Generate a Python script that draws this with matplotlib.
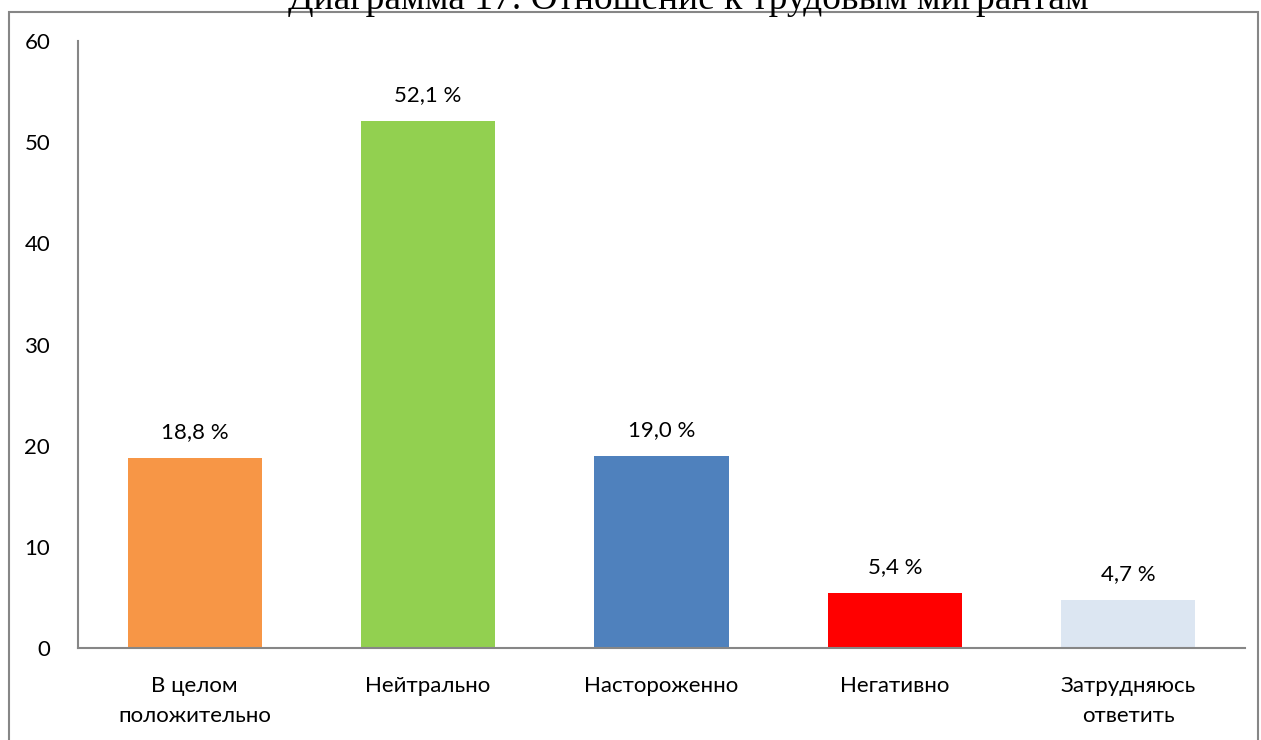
import matplotlib.pyplot as plt
from matplotlib.patches import Rectangle

categories = ['В целом\nположительно', 'Нейтрально', 'Настороженно', 'Негативно', 'Затрудняюсь\nответить']
values = [18.8, 52.1, 19.0, 5.4, 4.7]
labels = ['18,8 %', '52,1 %', '19,0 %', '5,4 %', '4,7 %']
colors = ['#F79646', '#92D050', '#4F81BD', '#FF0000', '#DCE6F2']

plt.rcParams['font.family'] = ['Lato', 'DejaVu Sans']

fig = plt.figure(figsize=(12.61, 7.40), dpi=100)
ax = fig.add_axes([78 / 1261, 1 - 648 / 740, (1245 - 78) / 1261, (648 - 41) / 740])

x = range(len(categories))
ax.bar(x, values, width=0.575, color=colors)
for i, (v, t) in enumerate(zip(values, labels)):
    ax.text(i, v + 1.6, t, ha='center', va='bottom', fontsize=16)

ax.set_xlim(-0.5, len(categories) - 0.5)
ax.set_ylim(0, 60)
ax.set_yticks(range(0, 61, 10))
ax.set_xticks(list(x))
ax.set_xticklabels(categories, fontsize=16, linespacing=1.65)
ax.tick_params(axis='y', length=0, pad=20, labelsize=16)
ax.tick_params(axis='x', length=0, pad=20)
for s in ['top', 'right']:
    ax.spines[s].set_visible(False)
for s in ['left', 'bottom']:
    ax.spines[s].set_color('#868686')
    ax.spines[s].set_linewidth(1.5)

# рамка вокруг диаграммы
fig.patches.append(Rectangle((9 / 1261, -0.05), (1258 - 9) / 1261, 1.05 - 12 / 740,
                             transform=fig.transFigure, fill=False,
                             edgecolor='#868686', linewidth=1.5))

fig.text(688 / 1261, 1 - 9 / 740, 'Диаграмма 17. Отношение к трудовым мигрантам',
         ha='center', va='baseline', fontsize=27, family='Liberation Serif')

fig.savefig('out.png')
